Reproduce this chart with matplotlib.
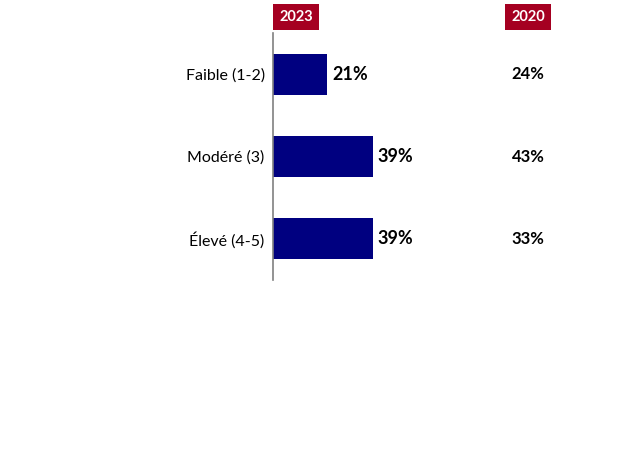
import matplotlib

matplotlib.use("Agg")
import matplotlib.pyplot as plt

categories = ["Faible (1-2)", "Modéré (3)", "Élevé (4-5)"]
values_2023 = [21, 39, 39]
values_2020 = [24, 43, 33]
headers = ["2023", "2020"]

NAVY = "#000080"
RED = "#A50021"

plt.rcParams["font.family"] = ["Lato", "DejaVu Sans"]

fig = plt.figure(figsize=(6.24, 4.68), dpi=100)
# axes spans x 273..624 px, y 33..280 px
ax = fig.add_axes([273 / 624, 188 / 468, 351 / 624, 247 / 468])
ax.barh(range(len(categories)), values_2023, height=0.5, color=NAVY)
ax.set_xlim(0, 351 / 2.56)
ax.set_ylim(2.5, -0.5)

for s in ["top", "right", "bottom"]:
    ax.spines[s].set_visible(False)
ax.spines["left"].set_color("#808080")
ax.spines["left"].set_linewidth(1.2)
ax.set_xticks([])
ax.set_yticks(range(len(categories)))
ax.set_yticklabels(categories, fontsize=11.5)
ax.tick_params(axis="y", length=0, pad=6)

for i, v in enumerate(values_2023):
    ax.text(v + 2, i, f"{v}%", va="center", ha="left", fontsize=13,
            fontweight="bold")

col_2020 = (528 - 273) / 351
for i, v in enumerate(values_2020):
    ax.text(col_2020, i, f"{v}%", transform=ax.get_yaxis_transform(),
            va="center", ha="center", fontsize=12, fontweight="bold")

# header boxes
for label, cx in zip(headers, [296, 528]):
    fig.text(cx / 624, 1 - 17 / 468, label, ha="center", va="center",
             color="white", fontsize=10.5, fontweight="bold",
             bbox=dict(boxstyle="square,pad=0.4", facecolor=RED,
                       edgecolor="none"))

fig.savefig("out.png", dpi=100)
